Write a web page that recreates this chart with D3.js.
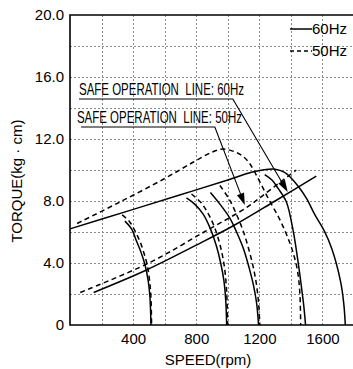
<!DOCTYPE html>
<html><head><meta charset="utf-8">
<script src="https://cdn.jsdelivr.net/npm/d3@7"></script>
<style>
html,body{margin:0;padding:0;background:#fff;}
svg{display:block;font-family:"Liberation Sans",Arial,Helvetica,sans-serif;}
</style></head>
<body><svg id="c" width="353" height="369"></svg>
<script>
// ---- data (speed rpm, torque kg·cm) ----
const xTicks = [400, 800, 1200, 1600];
const yTicks = [0, 4, 8, 12, 16, 20];
const xGrid = [200, 400, 600, 800, 1000, 1200, 1400, 1600];
const yGrid = [2, 4, 6, 8, 10, 12, 14, 16, 18];

// motor characteristic curves
const motor60 = [[0,6.2],[350,7.3],[700,8.4],[1000,9.35],[1150,9.85],[1230,10.02],[1300,10.05],[1360,9.85],[1400,9.5],[1450,8.9],[1500,8.15],[1550,7.15],[1610,6.1],[1660,4.9],[1715,2.8],[1735,1.4],[1745,0]];
const motor50 = [[45,6.55],[300,7.85],[600,9.45],[780,10.5],[900,11.15],[970,11.35],[1050,11.15],[1100,10.85],[1140,10.4],[1200,9.3],[1260,8.1],[1320,7.0],[1370,5.9],[1410,4.8],[1440,3.6],[1456,2.2],[1462,0]];

// speed-controlled curves, 60Hz (solid)
const ctrl60A = [[348,6.7],[390,6.2],[422,5.4],[450,4.7],[475,3.9],[495,2.9],[506,1.9],[511,0.8],[513,0]];
const ctrl60B = [[738,8.2],[790,7.8],[844,7.15],[890,6.2],[928,5.1],[955,4.0],[975,2.9],[987,1.6],[993,0]];
const ctrl60C = [[890,8.55],[950,7.8],[1013,6.9],[1060,5.9],[1100,4.9],[1135,3.7],[1162,2.6],[1183,1.4],[1195,0]];
const ctrl60D = [[1234,9.7],[1280,9.35],[1320,8.8],[1371,7.95],[1414,6.1],[1445,4.1],[1465,2.6],[1482,1.2],[1493,0]];
// speed-controlled curves, 50Hz (dashed)
const ctrl50A = [[330,7.1],[375,6.7],[410,6.1],[443,5.4],[470,4.6],[491,3.8],[505,2.8],[513,1.8],[517,0]];
const ctrl50B = [[770,8.45],[830,7.9],[880,7.1],[920,6.2],[955,5.0],[978,3.8],[990,2.6],[996,1.4],[999,0]];
const ctrl50C = [[950,9.0],[1010,8.1],[1065,6.9],[1100,6.0],[1130,5.0],[1160,3.8],[1182,2.6],[1196,1.3],[1203,0]];

// safe operation lines
const safe60 = [[150,2.1],[485,3.55],[800,5.15],[1044,6.45],[1300,8.0],[1561,9.6]];
const safe50 = [[65,2.1],[500,4.0],[850,6.0],[1130,7.65],[1240,8.5],[1434,10.0]];

// annotations: label, text anchor, underline, arrow tip (data units)
const noteLabels = ["SAFE OPERATION  LINE: 60Hz", "SAFE OPERATION  LINE: 50Hz"];
const noteText = [[57,14.84],[44,13.03]];
const noteUnder = [[[57,14.58],[1032,14.58]],[[70,12.77],[918,12.77]]];
const noteTip = [[1380,8.58],[1108,7.74]];

const legendLabels = ["60Hz", "50Hz"];

// ---- drawing ----
const svg = d3.select("#c");
const x = d3.scaleLinear().domain([0,1800]).range([70,354]);
const y = d3.scaleLinear().domain([0,20]).range([325,15]);

// grid
const g = svg.append("g").attr("stroke","#8a8a8a").attr("stroke-width",1).attr("stroke-dasharray","2,2");
g.selectAll(".vg").data(xGrid).join("line")
  .attr("x1",d=>Math.round(x(d))+0.5).attr("x2",d=>Math.round(x(d))+0.5)
  .attr("y1",y(20)).attr("y2",y(0));
g.selectAll(".hg").data(yGrid).join("line")
  .attr("y1",d=>Math.round(y(d))+0.5).attr("y2",d=>Math.round(y(d))+0.5)
  .attr("x1",x(0)).attr("x2",353);

// frame
svg.append("path").attr("fill","none").attr("stroke","#000").attr("stroke-width",1.6)
  .attr("d",`M353,${y(20)}H${x(0)}V${y(0)}H353`);

// axes labels
const xa = svg.append("g").attr("transform",`translate(0,${y(0)})`)
  .call(d3.axisBottom(x).tickValues(xTicks).tickSize(0).tickPadding(8).tickFormat(d3.format("d")));
xa.select(".domain").remove();
xa.selectAll("text").attr("font-size",15).attr("fill","#000").attr("font-family","Liberation Sans,Arial,sans-serif");

const ya = svg.append("g").attr("transform",`translate(${x(0)},0)`)
  .call(d3.axisLeft(y).tickValues(yTicks).tickSize(0).tickPadding(6).tickFormat(d=>d===0?"0":d.toFixed(1)));
ya.select(".domain").remove();
ya.selectAll("text").attr("font-size",15).attr("fill","#000").attr("font-family","Liberation Sans,Arial,sans-serif");

svg.append("text").attr("x",208).attr("y",365).attr("text-anchor","middle")
  .attr("font-size",15).text("SPEED(rpm)");
svg.append("text").attr("transform","translate(22,181) rotate(-90)").attr("text-anchor","middle")
  .attr("font-size",15).style("white-space","pre").text("TORQUE(kg · cm)");

// curves
const line = d3.line().x(d=>x(d[0])).y(d=>y(d[1])).curve(d3.curveCatmullRom.alpha(0.5));
const solids = [motor60, ctrl60A, ctrl60B, ctrl60C, ctrl60D, safe60];
const dashes = [motor50, ctrl50A, ctrl50B, ctrl50C, safe50];
svg.append("g").selectAll("path").data(solids).join("path")
  .attr("d",line).attr("fill","none").attr("stroke","#000").attr("stroke-width",1.5);
svg.append("g").selectAll("path").data(dashes).join("path")
  .attr("d",line).attr("fill","none").attr("stroke","#000").attr("stroke-width",1.5)
  .attr("stroke-dasharray","5,3.5");

// annotations
noteLabels.forEach((lab,i)=>{
  svg.append("text").attr("x",x(noteText[i][0])).attr("y",y(noteText[i][1]))
    .attr("font-size",16.5).attr("font-family","Liberation Sans Narrow,Liberation Sans,Arial,sans-serif")
    .attr("textLength",165).attr("lengthAdjust","spacingAndGlyphs")
    .style("white-space","pre").text(lab);
  const u = noteUnder[i];
  const pts = [[x(u[0][0]),y(u[0][1])],[x(u[1][0]),y(u[1][1])]];
  const tip = [x(noteTip[i][0]), y(noteTip[i][1])];
  const sx = pts[1][0], sy = pts[1][1];
  const dx = tip[0]-sx, dy = tip[1]-sy, L = Math.hypot(dx,dy);
  const ux = dx/L, uy = dy/L, hl = 12, hw = 3.8;
  const bx = tip[0]-ux*hl, by = tip[1]-uy*hl;
  svg.append("path").attr("fill","none").attr("stroke","#000").attr("stroke-width",1.1)
    .attr("d",`M${pts[0][0]},${pts[0][1]}H${sx}L${bx},${by}`);
  svg.append("path").attr("fill","#000")
    .attr("d",`M${tip[0]},${tip[1]}L${bx-uy*hw},${by+ux*hw}L${bx+uy*hw},${by-ux*hw}Z`);
});

// legend
legendLabels.forEach((lab,i)=>{
  const ly = 29 + i*22;
  svg.append("line").attr("x1",290).attr("x2",312).attr("y1",ly).attr("y2",ly)
    .attr("stroke","#000").attr("stroke-width",1.5)
    .attr("stroke-dasharray", i===0 ? null : "4,3");
  svg.append("text").attr("x",312).attr("y",ly+5).attr("font-size",15).text(lab);
});
</script></body></html>
